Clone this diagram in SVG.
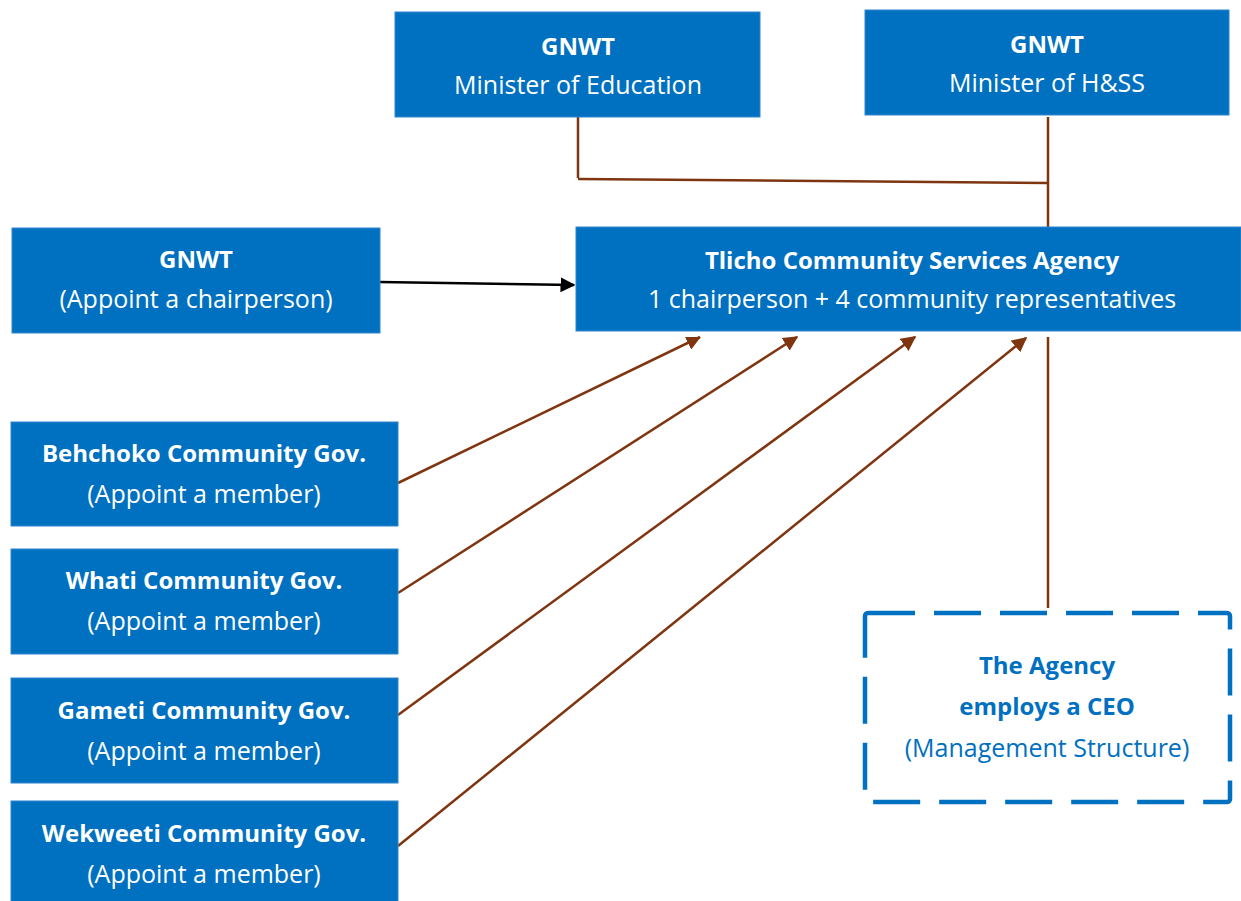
<svg xmlns="http://www.w3.org/2000/svg" width="1241" height="901" viewBox="0 0 1241 901">
  <defs>
    <style>
      .box { fill: #0070C0; stroke: #2E86CF; stroke-width: 1; }
      .t { font-family: "Open Sans", "Noto Sans", sans-serif; font-size: 25px; fill: #FFFFFF; text-anchor: middle; }
      .b { font-weight: bold; font-size: 24px; }
      .blue { fill: #0070C0; }
      .link { stroke: #7F3510; stroke-width: 2.5; fill: none; }
      .arrow { stroke: #7F3510; stroke-width: 2.5; fill: none; marker-end: url(#brownHead); }
      .black { stroke: #000000; stroke-width: 2.5; fill: none; marker-end: url(#blackHead); }
      .dashed { fill: #FFFFFF; stroke: #0070C0; stroke-width: 4.5; stroke-dasharray: 47 19; }
    </style>
    <marker id="brownHead" viewBox="0 0 10 10" refX="9" refY="5" markerWidth="6" markerHeight="6" markerUnits="strokeWidth" orient="auto">
      <path d="M0,0 L10,5 L0,10 Z" fill="#7F3510"/>
    </marker>
    <marker id="blackHead" viewBox="0 0 10 10" refX="9" refY="5" markerWidth="6" markerHeight="6" markerUnits="strokeWidth" orient="auto">
      <path d="M0,0 L10,5 L0,10 Z" fill="#000000"/>
    </marker>
  </defs>

  <rect width="1241" height="901" fill="#FFFFFF"/>

  <!-- connectors -->
  <g id="connectors">
    <polyline class="link" points="578,117 578,178"/>
    <polyline class="link" points="578,179 1048,183"/>
    <polyline class="link" points="1048,117 1048,232"/>
    <polyline class="link" points="1048,337 1048,608"/>
    <line class="black" x1="380" y1="282" x2="574" y2="285"/>
    <line class="arrow" x1="398" y1="483" x2="700" y2="337"/>
    <line class="arrow" x1="398" y1="593" x2="797" y2="337"/>
    <line class="arrow" x1="398" y1="715" x2="915" y2="337"/>
    <line class="arrow" x1="398" y1="846" x2="1026" y2="338"/>
  </g>

  <g id="gnwt-education">
    <rect class="box" x="395" y="12" width="365" height="105"/>
    <text class="t b" x="578" y="55">GNWT</text>
    <text class="t" x="578" y="94">Minister of Education</text>
  </g>

  <g id="gnwt-hss">
    <rect class="box" x="865" y="10" width="364" height="105"/>
    <text class="t b" x="1047" y="53">GNWT</text>
    <text class="t" x="1047" y="92">Minister of H&amp;SS</text>
  </g>

  <g id="gnwt-chair">
    <rect class="box" x="12" y="228" width="368" height="105"/>
    <text class="t b" x="196" y="268">GNWT</text>
    <text class="t" x="196" y="308">(Appoint a chairperson)</text>
  </g>

  <g id="agency">
    <rect class="box" x="576" y="227" width="665" height="104"/>
    <text class="t b" x="912" y="269">Tlicho Community Services Agency</text>
    <text class="t" x="912" y="308">1 chairperson + 4 community representatives</text>
  </g>

  <g id="behchoko">
    <rect class="box" x="11" y="422" width="387" height="104"/>
    <text class="t b" x="204" y="462">Behchoko Community Gov.</text>
    <text class="t" x="204" y="503">(Appoint a member)</text>
  </g>

  <g id="whati">
    <rect class="box" x="11" y="549" width="387" height="105"/>
    <text class="t b" x="204" y="589">Whati Community Gov.</text>
    <text class="t" x="204" y="630">(Appoint a member)</text>
  </g>

  <g id="gameti">
    <rect class="box" x="11" y="678" width="387" height="105"/>
    <text class="t b" x="204" y="719">Gameti Community Gov.</text>
    <text class="t" x="204" y="760">(Appoint a member)</text>
  </g>

  <g id="wekweeti">
    <rect class="box" x="11" y="801" width="387" height="105"/>
    <text class="t b" x="204" y="842">Wekweeti Community Gov.</text>
    <text class="t" x="204" y="883">(Appoint a member)</text>
  </g>

  <g id="ceo">
    <rect class="dashed" x="865" y="613" width="365" height="189" rx="3"/>
    <text class="t b blue" x="1047" y="674">The Agency</text>
    <text class="t b blue" x="1047" y="715">employs a CEO</text>
    <text class="t blue" x="1047" y="757">(Management Structure)</text>
  </g>
</svg>
